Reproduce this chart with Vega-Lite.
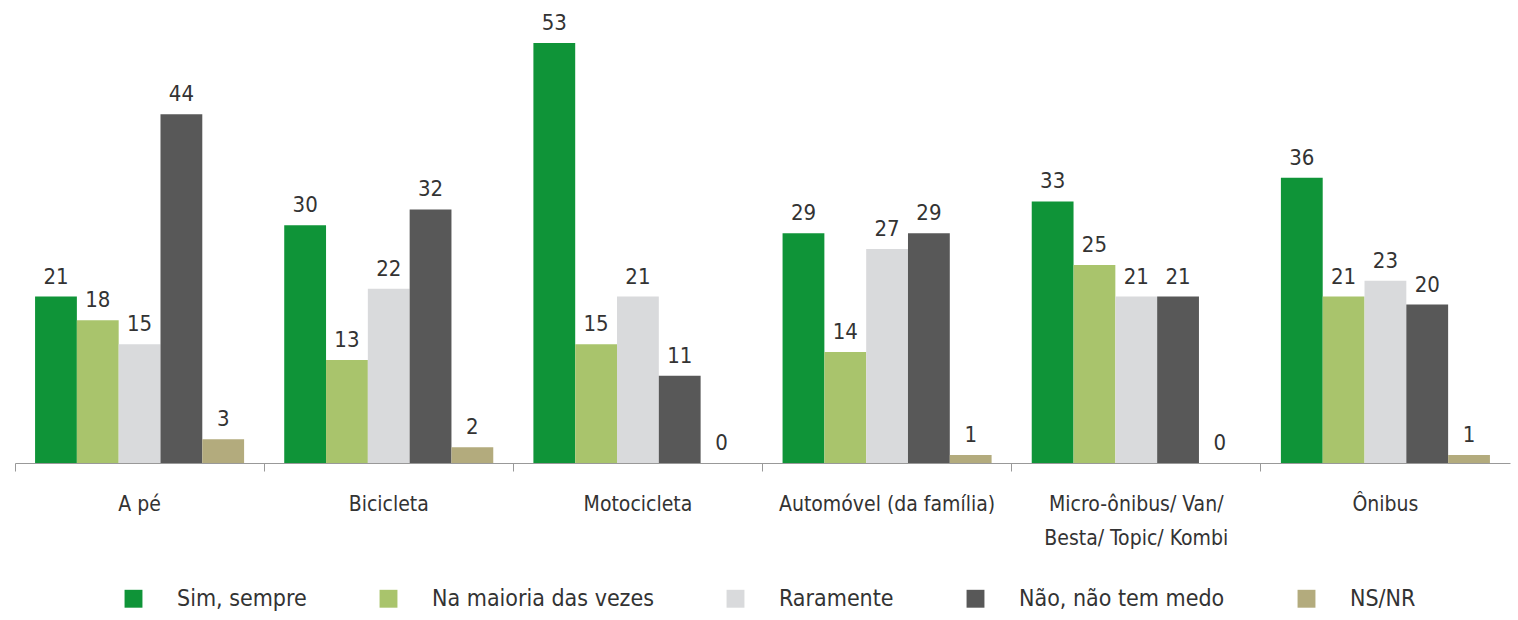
{
  "$schema": "https://vega.github.io/schema/vega-lite/v6.json",
  "width": 1495,
  "height": 420,
  "autosize": {"type": "none"},
  "padding": {"left": 15, "top": 43, "right": 8, "bottom": 157},
  "background": "white",
  "config": {
    "view": {"stroke": null},
    "font": "DejaVu Sans Condensed, sans-serif"
  },
  "data": {
    "values": [
      {"modo": "A pé", "resposta": "Sim, sempre", "valor": 21},
      {"modo": "A pé", "resposta": "Na maioria das vezes", "valor": 18},
      {"modo": "A pé", "resposta": "Raramente", "valor": 15},
      {"modo": "A pé", "resposta": "Não, não tem medo", "valor": 44},
      {"modo": "A pé", "resposta": "NS/NR", "valor": 3},
      {"modo": "Bicicleta", "resposta": "Sim, sempre", "valor": 30},
      {"modo": "Bicicleta", "resposta": "Na maioria das vezes", "valor": 13},
      {"modo": "Bicicleta", "resposta": "Raramente", "valor": 22},
      {"modo": "Bicicleta", "resposta": "Não, não tem medo", "valor": 32},
      {"modo": "Bicicleta", "resposta": "NS/NR", "valor": 2},
      {"modo": "Motocicleta", "resposta": "Sim, sempre", "valor": 53},
      {"modo": "Motocicleta", "resposta": "Na maioria das vezes", "valor": 15},
      {"modo": "Motocicleta", "resposta": "Raramente", "valor": 21},
      {"modo": "Motocicleta", "resposta": "Não, não tem medo", "valor": 11},
      {"modo": "Motocicleta", "resposta": "NS/NR", "valor": 0},
      {"modo": "Automóvel (da família)", "resposta": "Sim, sempre", "valor": 29},
      {"modo": "Automóvel (da família)", "resposta": "Na maioria das vezes", "valor": 14},
      {"modo": "Automóvel (da família)", "resposta": "Raramente", "valor": 27},
      {"modo": "Automóvel (da família)", "resposta": "Não, não tem medo", "valor": 29},
      {"modo": "Automóvel (da família)", "resposta": "NS/NR", "valor": 1},
      {"modo": "Micro-ônibus/ Van/ Besta/ Topic/ Kombi", "resposta": "Sim, sempre", "valor": 33},
      {"modo": "Micro-ônibus/ Van/ Besta/ Topic/ Kombi", "resposta": "Na maioria das vezes", "valor": 25},
      {"modo": "Micro-ônibus/ Van/ Besta/ Topic/ Kombi", "resposta": "Raramente", "valor": 21},
      {"modo": "Micro-ônibus/ Van/ Besta/ Topic/ Kombi", "resposta": "Não, não tem medo", "valor": 21},
      {"modo": "Micro-ônibus/ Van/ Besta/ Topic/ Kombi", "resposta": "NS/NR", "valor": 0},
      {"modo": "Ônibus", "resposta": "Sim, sempre", "valor": 36},
      {"modo": "Ônibus", "resposta": "Na maioria das vezes", "valor": 21},
      {"modo": "Ônibus", "resposta": "Raramente", "valor": 23},
      {"modo": "Ônibus", "resposta": "Não, não tem medo", "valor": 20},
      {"modo": "Ônibus", "resposta": "NS/NR", "valor": 1}
    ]
  },
  "encoding": {
    "x": {
      "field": "modo",
      "type": "nominal",
      "sort": ["A pé", "Bicicleta", "Motocicleta", "Automóvel (da família)", "Micro-ônibus/ Van/ Besta/ Topic/ Kombi", "Ônibus"],
      "scale": {"paddingInner": 0, "paddingOuter": 0},
      "axis": {
        "title": null,
        "labelAngle": 0,
        "bandPosition": 0,
        "labelFontSize": 21,
        "labelColor": "#333333",
        "labelPadding": 22,
        "labelLineHeight": 34,
        "labelLimit": 400,
        "tickSize": 8,
        "tickColor": "#999999",
        "domainColor": "#999999",
        "labelExpr": "datum.value == 'Micro-ônibus/ Van/ Besta/ Topic/ Kombi' ? ['Micro-ônibus/ Van/', 'Besta/ Topic/ Kombi'] : datum.label"
      }
    },
    "xOffset": {
      "field": "resposta",
      "type": "nominal",
      "sort": ["Sim, sempre", "Na maioria das vezes", "Raramente", "Não, não tem medo", "NS/NR"],
      "scale": {"paddingInner": 0, "paddingOuter": 0.48}
    },
    "y": {
      "field": "valor",
      "type": "quantitative",
      "scale": {"domain": [0, 53], "nice": false},
      "axis": null
    }
  },
  "layer": [
    {
      "mark": {"type": "bar"},
      "encoding": {
        "color": {
          "field": "resposta",
          "type": "nominal",
          "sort": ["Sim, sempre", "Na maioria das vezes", "Raramente", "Não, não tem medo", "NS/NR"],
          "scale": {
            "domain": ["Sim, sempre", "Na maioria das vezes", "Raramente", "Não, não tem medo", "NS/NR"],
            "range": ["#0f9438", "#a9c46c", "#d9dadc", "#585858", "#b3ab7d"]
          },
          "legend": {
            "title": null,
            "orient": "none",
            "direction": "horizontal",
            "legendX": 107,
            "legendY": 544,
            "symbolType": "square",
            "symbolSize": 320,
            "symbolStrokeWidth": 0,
            "labelFontSize": 23,
            "labelColor": "#333333",
            "labelOffset": 32,
            "columnPadding": 70,
            "labelLimit": 400
          }
        }
      }
    },
    {
      "mark": {"type": "text", "baseline": "bottom", "dy": -8, "fontSize": 22, "color": "#333333"},
      "encoding": {
        "text": {"field": "valor", "type": "quantitative"}
      }
    }
  ]
}
